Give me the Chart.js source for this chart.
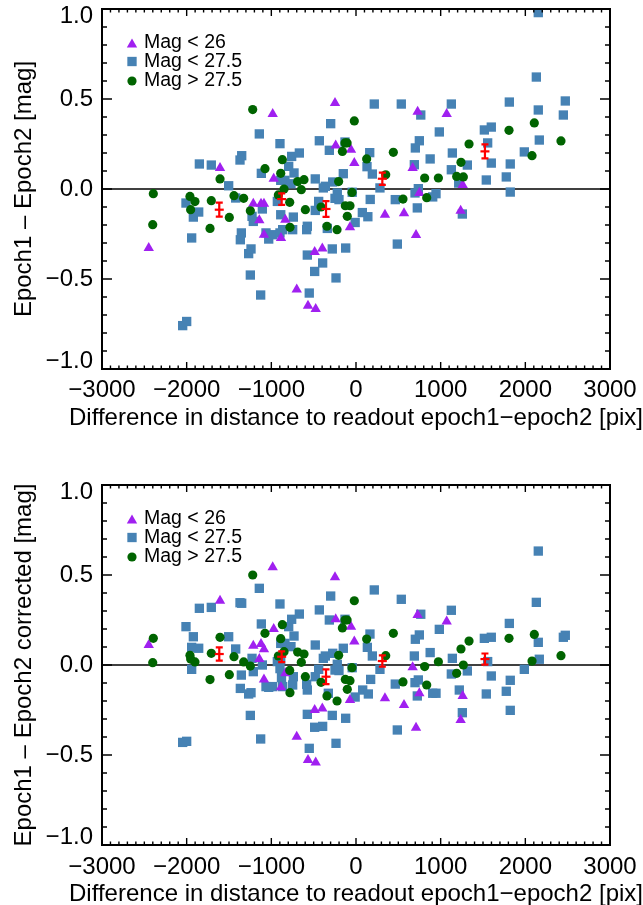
<!DOCTYPE html>
<html>
<head>
<meta charset="utf-8">
<script src="https://cdn.jsdelivr.net/npm/chart.js@4.4.1/dist/chart.umd.min.js"></script>
<style>
  html, body { margin: 0; padding: 0; background: #fff; }
  #wrap { position: relative; width: 643px; height: 905px; overflow: hidden; }
  .panel { position: absolute; left: 0; width: 643px; }
</style>
</head>
<body>
<div id="wrap">
  <div class="panel" style="top:0;height:452px"><canvas id="top"></canvas></div>
  <div class="panel" style="top:452px;height:460px"><canvas id="bottom"></canvas></div>
</div>
<script>
// tick labels
const xTicks = [-3000, -2000, -1000, 0, 1000, 2000, 3000];
const yTicks = [-1.0, -0.5, 0.0, 0.5, 1.0];
const seriesLabels = ['Mag < 26', 'Mag < 27.5', 'Mag > 27.5'];
const xTitle = 'Difference in distance to readout epoch1\u2212epoch2 [pix]';
const yTitleTop = 'Epoch1 \u2013 Epoch2 [mag]';
const yTitleBot = 'Epoch1 \u2013 Epoch2 corrected [mag]';

// Mag < 26 (triangles), same x in both panels
const triX = [-2448, -1606, -984, -972, -1213, -1122, -1087, -1142, -1087, -886, -835, -700, -567, -476, -488,
  -398, -248, -240, -59, -20, -71, 342, 567, 728, 669, 748, 709, 1071, 1260, 1236];
const triYTop = [-0.328, 0.117, 0.417, 0.057, -0.082, -0.082, -0.082, -0.174, -0.254, -0.272, -0.171, -0.559, -0.648, -0.667, -0.350,
  -0.330, 0.478, 0.242, 0.218, 0.144, -0.213, -0.143, -0.135, 0.429, 0.117, -0.022, -0.256, 0.417, 0.022, -0.121];
const triYBot = [0.111, 0.357, 0.543, 0.200, 0.107, 0.117, 0.087, 0.033, -0.080, -0.124, -0.046, -0.398, -0.528, -0.541, -0.250,
  -0.241, 0.487, 0.254, 0.213, 0.130, -0.194, -0.185, -0.222, 0.278, -0.013, -0.157, -0.348, 0.241, -0.172, -0.306];

// Mag > 27.5 (circles), same x in both panels
const dotX = [-2394, -2401, -1961, -1902, -1953, -1724, -1709, -1606, -1496, -1441, -1327, -1220, -1248, -1075, -889,
  -870, -917, -850, -783, -780, -689, -646, -614, -598, -413, -343, -224, -205, -161, -130,
  -105, -20, -47, -126, -71, -103, 126, 441, 351, 555, 811, 835, 973, 1335, 1240,
  1189, 1268, 1807, 2106, 2079, 2421];
const dotYTop = [-0.026, -0.198, -0.041, -0.070, -0.115, -0.219, -0.065, 0.056, -0.158, -0.037, -0.052, 0.441, -0.121, 0.113, 0.087,
  0.163, -0.033, 0.000, -0.074, -0.213, 0.041, -0.004, 0.052, -0.115, -0.100, -0.207, -0.226, 0.041, 0.209, 0.256,
  0.256, 0.378, -0.019, -0.093, -0.093, -0.152, 0.167, 0.204, 0.079, -0.056, 0.061, -0.048, 0.061, 0.250, 0.148,
  0.070, 0.067, 0.326, 0.367, 0.185, 0.267];
const dotYBot = [0.148, 0.013, 0.054, 0.017, 0.033, -0.081, 0.065, 0.154, -0.054, 0.046, 0.017, 0.500, -0.006, 0.176, 0.146,
  0.224, 0.050, 0.074, -0.030, -0.154, 0.072, 0.015, 0.061, -0.065, -0.096, -0.172, -0.200, 0.054, 0.206, 0.250,
  0.250, 0.357, -0.015, -0.080, -0.087, -0.135, 0.144, 0.176, 0.052, -0.094, -0.009, -0.111, 0.018, 0.133, 0.089,
  -0.046, 0.000, 0.148, 0.170, 0.022, 0.052];

// Mag < 27.5 (squares)
const sqXTop = [-2047, -2000, -2008, -1941, -1921, -1858, -1850, -1709, -1504, -1421, -1350, -1370, -1366, -1354, -1268,
  -1240, -1248, -1142, -1118, -1106, -1228, -1213, -1126, -1063, -1031, -984, -929, -898, -889, -889,
  -898, -866, -795, -760, -732, -669, -740, -748, -839, -768, -575, -575, -583, -552, -488,
  -394, -481, -481, -441, -433, -386, -362, -315, -299, -339, -280, -236, -275, -248, -221,
  -201, -150, -130, -122, -45, -10, 75, 140, 130, 162, 168, 216, 535, 765, 748,
  701, 689, 876, 193, 283, 464, 724, 697, 736, 488, 2153, 2130, 2472, 2449, 2153,
  1811, 1126, 984, 1516, 1598, 1555, 2165, 1138, 1315, 1598, 1822, 1988, 1126, 1539, 1775,
  1213, 1822, 945, 906, 1256];
const sqYTop = [-0.759, -0.736, -0.078, -0.272, -0.156, -0.128, 0.139, 0.133, 0.018, -0.050, 0.185, 0.161, -0.282, -0.244, -0.359,
  -0.333, -0.478, 0.306, 0.087, -0.111, -0.152, -0.180, -0.589, -0.244, -0.278, -0.254, -0.069, 0.252, 0.048, -0.143,
  -0.244, -0.226, 0.126, 0.181, 0.089, 0.200, -0.156, -0.226, 0.048, 0.029, -0.367, -0.207, -0.226, -0.578, -0.458,
  -0.411, 0.056, -0.119, -0.069, 0.268, 0.006, 0.015, 0.215, 0.363, -0.219, -0.333, -0.494, 0.039, -0.052, -0.022,
  -0.059, 0.085, 0.261, -0.328, -0.018, -0.186, -0.131, -0.154, 0.124, 0.202, -0.058, 0.472, 0.472, 0.411, 0.268,
  0.228, 0.135, 0.167, 0.083, 0.006, -0.059, -0.105, -0.022, 0.002, -0.306, 0.980, 0.622, 0.489, 0.411, 0.439,
  0.483, 0.472, 0.317, 0.328, 0.344, 0.256, 0.272, 0.200, 0.133, 0.144, 0.139, 0.206, 0.107, 0.050, 0.067,
  0.033, -0.017, -0.026, -0.044, -0.139];
const sqXBot = [-2047, -2000, -2008, -1941, -1921, -1941, -1858, -1850, -1709, -1504, -1421, -1350, -1370, -1366, -1354,
  -1268, -1240, -1248, -1142, -1118, -1106, -1228, -1213, -1126, -1063, -1031, -984, -929, -898, -889,
  -889, -898, -880, -866, -795, -760, -732, -669, -740, -748, -839, -768, -575, -575, -583,
  -552, -488, -394, -481, -481, -441, -433, -386, -362, -315, -299, -327, -280, -236, -275,
  -248, -221, -201, -150, -130, -122, -45, -10, 79, 146, 134, 165, 173, 216, 535,
  765, 748, 701, 689, 876, 193, 283, 464, 697, 736, 724, 488, 2153, 2130, 2472,
  2449, 2153, 1811, 1126, 984, 1516, 1598, 1555, 2165, 1138, 1315, 1598, 1822, 1988, 1126,
  1539, 1775, 1220, 1822, 945, 906, 1256];
const sqYBot = [-0.430, -0.424, 0.213, -0.024, 0.157, 0.098, 0.093, 0.315, 0.320, 0.157, 0.089, 0.343, 0.346, -0.130, -0.056,
  -0.161, -0.154, -0.280, 0.426, 0.228, 0.000, 0.037, -0.037, -0.411, -0.120, -0.124, -0.120, 0.019, 0.339, 0.120,
  0.030, -0.020, -0.070, -0.120, 0.213, 0.254, 0.161, 0.283, -0.065, -0.111, 0.120, 0.102, -0.274, -0.139, -0.107,
  -0.463, -0.346, -0.341, 0.111, -0.065, -0.024, 0.306, 0.037, 0.050, 0.250, 0.383, -0.157, -0.280, -0.435, 0.065,
  -0.028, 0.004, -0.031, 0.093, 0.254, -0.296, -0.015, -0.178, -0.139, -0.161, 0.098, 0.172, -0.080, 0.417, 0.365,
  0.282, 0.167, 0.143, 0.050, 0.069, 0.050, -0.024, -0.106, -0.098, -0.083, -0.172, -0.361, 0.633, 0.348, 0.165,
  0.154, 0.126, 0.231, 0.304, 0.198, 0.148, 0.154, 0.019, 0.032, 0.037, -0.033, -0.061, -0.085, -0.024, -0.050,
  -0.161, -0.146, -0.139, -0.252, -0.157, -0.157, -0.265];

// binned means with errors (red)
const binX = [-1615, -878, -354, 311, 1523];
const binYTop = [-0.115, -0.056, -0.111, 0.057, 0.209];
const binErrTop = [0.039, 0.032, 0.044, 0.034, 0.039];
const binYBot = [0.061, 0.046, -0.065, 0.022, 0.033];
const binErrBot = [0.037, 0.030, 0.041, 0.031, 0.031];

const FONT = '"Liberation Sans", Arial, Helvetica, sans-serif';
const MINUS = '\u2212';
function fmt(v, d) {
  const s = Math.abs(v).toFixed(d);
  return v < 0 ? MINUS + s : s;
}
function zip(xs, ys) { return xs.map((x, i) => ({ x: x, y: ys[i] })); }

// axis box, inward ticks on all four sides, zero line, y labels, x title
const idlFrame = {
  id: 'idlFrame',
  beforeDatasetsDraw(chart) {
    const { ctx, chartArea: a, scales } = chart;
    const y0 = scales.y.getPixelForValue(0);
    ctx.save();
    ctx.strokeStyle = '#000';
    ctx.lineWidth = 1.6;
    ctx.beginPath();
    ctx.moveTo(a.left, y0);
    ctx.lineTo(a.right, y0);
    ctx.stroke();
    ctx.restore();
  },
  afterDraw(chart) {
    const { ctx, chartArea: a, scales } = chart;
    ctx.save();
    ctx.strokeStyle = '#000';
    ctx.lineWidth = 1.4;
    ctx.beginPath();
    for (let i = -30; i <= 30; i++) {
      const px = scales.x.getPixelForValue(i * 100);
      const len = i % 10 === 0 ? 7 : 3.5;
      ctx.moveTo(px, a.bottom); ctx.lineTo(px, a.bottom - len);
      ctx.moveTo(px, a.top); ctx.lineTo(px, a.top + len);
    }
    for (let i = -10; i <= 10; i++) {
      const py = scales.y.getPixelForValue(i / 10);
      const len = i % 5 === 0 ? 10 : 5;
      ctx.moveTo(a.left, py); ctx.lineTo(a.left + len, py);
      ctx.moveTo(a.right, py); ctx.lineTo(a.right - len, py);
    }
    ctx.stroke();
    ctx.lineWidth = 2;
    ctx.strokeRect(a.left, a.top, a.right - a.left, a.bottom - a.top);

    ctx.fillStyle = '#000';
    ctx.font = '24px ' + FONT;
    ctx.textBaseline = 'middle';
    // y tick labels, the end ones kept inside the frame height
    ctx.textAlign = 'right';
    yTicks.forEach(v => {
      const py = Math.min(Math.max(scales.y.getPixelForValue(v), a.top + 7), a.bottom - 8);
      ctx.fillText(fmt(v, 1), a.left - 9, py);
    });
    // x axis title, wider than the axis itself
    ctx.textAlign = 'center';
    ctx.fillText(xTitle, (a.left + a.right) / 2, a.bottom + 49);
    ctx.restore();
  }
};

// vertical error bars with caps for datasets carrying `errors`
const errorBars = {
  id: 'errorBars',
  afterDatasetsDraw(chart) {
    const { ctx, scales } = chart;
    chart.data.datasets.forEach(ds => {
      if (!ds.errors) return;
      ctx.save();
      ctx.strokeStyle = ds.borderColor;
      ctx.lineWidth = 2.2;
      ds.data.forEach((p, i) => {
        const px = scales.x.getPixelForValue(p.x);
        const hi = scales.y.getPixelForValue(p.y + ds.errors[i]);
        const lo = scales.y.getPixelForValue(p.y - ds.errors[i]);
        ctx.beginPath();
        ctx.moveTo(px, hi); ctx.lineTo(px, lo);
        ctx.moveTo(px - 3.5, hi); ctx.lineTo(px + 3.5, hi);
        ctx.moveTo(px - 3.5, lo); ctx.lineTo(px + 3.5, lo);
        ctx.stroke();
      });
      ctx.restore();
    });
  }
};

// legend inside the plot, top left
function drawMarker(ctx, style, x, y, r) {
  ctx.beginPath();
  if (style === 'triangle') {
    ctx.moveTo(x, y - r);
    ctx.lineTo(x + r * 0.866, y + r * 0.5);
    ctx.lineTo(x - r * 0.866, y + r * 0.5);
    ctx.closePath();
  } else if (style === 'rect') {
    const s = r * Math.SQRT1_2;
    ctx.rect(x - s, y - s, 2 * s, 2 * s);
  } else {
    ctx.arc(x, y, r, 0, Math.PI * 2);
  }
  ctx.fill();
}
const insideLegend = {
  id: 'insideLegend',
  afterDatasetsDraw(chart) {
    const { ctx, chartArea: a } = chart;
    const rows = [34, 52.5, 72];
    ctx.save();
    ctx.font = '19.5px ' + FONT;
    ctx.textBaseline = 'middle';
    ctx.textAlign = 'left';
    chart.data.datasets.filter(ds => ds.legendRow !== undefined).forEach(ds => {
      const y = a.top + rows[ds.legendRow];
      ctx.fillStyle = ds.backgroundColor;
      drawMarker(ctx, ds.pointStyle, a.left + 30, y + (ds.pointStyle === 'triangle' ? 1.5 : 0), ds.pointRadius);
      ctx.fillStyle = '#000';
      ctx.fillText(ds.label, a.left + 42, y);
    });
    ctx.restore();
  }
};

function makePanel(id, o) {
  return new Chart(document.getElementById(id), {
    type: 'scatter',
    data: {
      datasets: [
        { label: 'bins', data: zip(binX, o.binY), errors: o.binErr, pointStyle: 'line', pointRadius: 4.5,
          borderColor: '#ff0000', backgroundColor: '#ff0000', borderWidth: 2.2 },
        { label: seriesLabels[2], legendRow: 2, data: zip(dotX, o.dotY), pointStyle: 'circle', pointRadius: 4.6,
          backgroundColor: '#006400', borderWidth: 0 },
        { label: seriesLabels[0], legendRow: 0, data: zip(triX, o.triY), pointStyle: 'triangle', pointRadius: 6,
          backgroundColor: '#a020f0', borderWidth: 0 },
        { label: seriesLabels[1], legendRow: 1, data: zip(o.sqX, o.sqY), pointStyle: 'rect', pointRadius: 6.6,
          backgroundColor: '#4682b4', borderWidth: 0 }
      ]
    },
    options: {
      responsive: true,
      maintainAspectRatio: false,
      animation: false,
      events: [],
      layout: { padding: { left: 0, right: 33, top: o.top, bottom: 0 } },
      plugins: { legend: { display: false }, tooltip: { enabled: false } },
      scales: {
        x: {
          type: 'linear', min: -3000, max: 3000,
          afterBuildTicks: s => { s.ticks = xTicks.map(v => ({ value: v })); },
          afterFit: s => { s.height = o.xHeight; s.paddingLeft = 0; s.paddingRight = 0; },
          grid: { display: false, drawTicks: false },
          border: { display: false },
          ticks: { color: '#000', font: { size: 24, family: FONT }, padding: o.xTickPad, maxRotation: 0,
                   callback: v => fmt(v, 0) },
          title: { display: false }
        },
        y: {
          type: 'linear', min: -1, max: 1,
          afterBuildTicks: s => { s.ticks = yTicks.map(v => ({ value: v })); },
          afterFit: s => { s.width = 102; s.paddingTop = 0; s.paddingBottom = 0; },
          grid: { display: false, drawTicks: false },
          border: { display: false },
          ticks: { display: false },
          title: { display: true, text: o.yTitle, color: '#000', font: { size: 24, family: FONT },
                   padding: { top: 10, bottom: 0 } }
        }
      }
    },
    plugins: [idlFrame, errorBars, insideLegend]
  });
}

makePanel('top', {
  top: 9, xHeight: 83, xTickPad: 7, yTitle: yTitleTop,
  triY: triYTop, dotY: dotYTop, sqX: sqXTop, sqY: sqYTop, binY: binYTop, binErr: binErrTop
});
makePanel('bottom', {
  top: 33, xHeight: 67, xTickPad: 8, yTitle: yTitleBot,
  triY: triYBot, dotY: dotYBot, sqX: sqXBot, sqY: sqYBot, binY: binYBot, binErr: binErrBot
});
</script>
</body>
</html>
